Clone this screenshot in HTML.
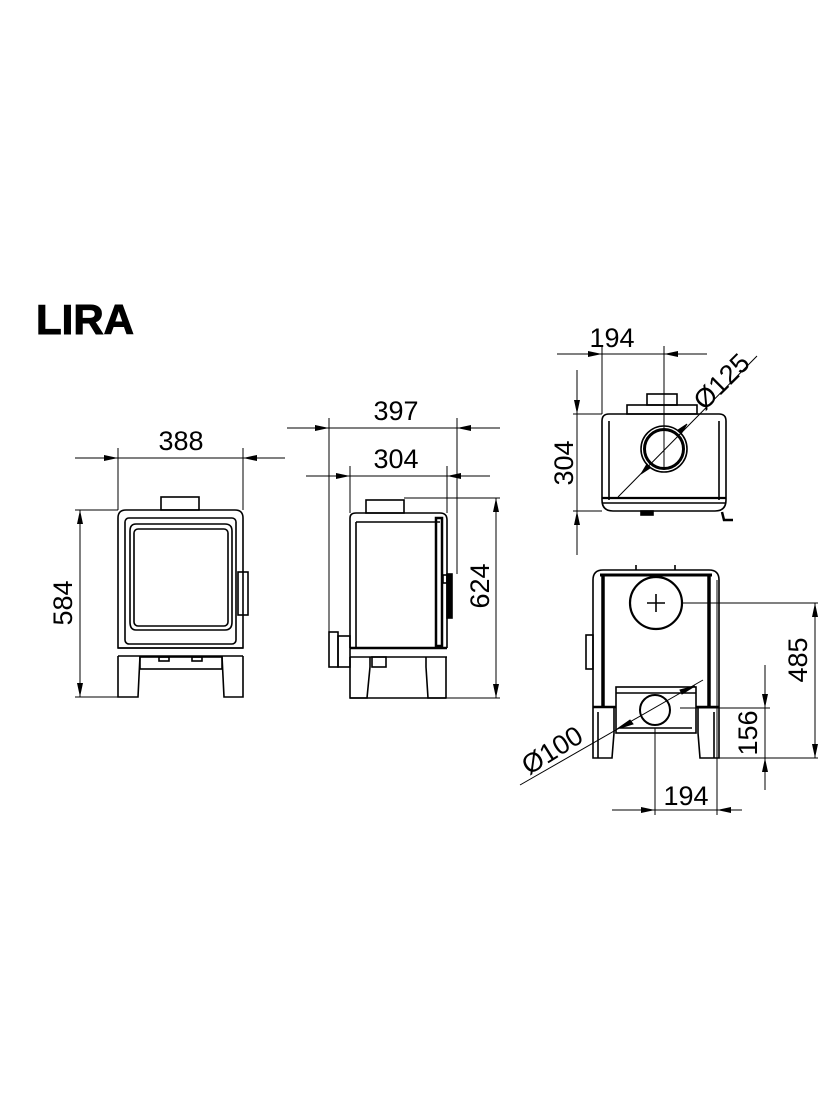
<!DOCTYPE html>
<html><head><meta charset="utf-8"><style>
html,body{margin:0;padding:0;background:#fff;}
svg{display:block;}
text{font-family:"Liberation Sans",sans-serif;fill:#000;}
</style></head><body>
<svg width="840" height="1120" viewBox="0 0 840 1120" xmlns="http://www.w3.org/2000/svg">
<defs>
<marker id="b" viewBox="0 0 14 6" refX="14" refY="3" markerWidth="14" markerHeight="6" orient="auto-start-reverse" markerUnits="userSpaceOnUse"><path d="M0,0 L14,3 L0,6 z" fill="#000"/></marker>
</defs>
<text x="36" y="334" font-size="42" font-weight="bold" stroke="#000" stroke-width="1">LIRA</text>

<g fill="none" stroke="#000" stroke-width="1">
<!-- FRONT VIEW -->
<line x1="118" y1="448" x2="118" y2="510"/>
<line x1="243" y1="448" x2="243" y2="510"/>
<line x1="75" y1="458" x2="118" y2="458" marker-end="url(#b)"/>
<line x1="285" y1="458" x2="243" y2="458" marker-end="url(#b)"/>
<line x1="118" y1="458" x2="243" y2="458"/>
<line x1="75" y1="510" x2="118" y2="510"/>
<line x1="75" y1="697" x2="118" y2="697"/>
<line x1="80" y1="510" x2="80" y2="697" marker-start="url(#b)" marker-end="url(#b)"/>
<g stroke-width="1.6">
<rect x="161" y="497" width="38" height="13"/>
<path d="M118,648 L118,518 Q118,510 126,510 L235,510 Q243,510 243,518 L243,648 Z"/>
<rect x="125" y="518" width="111" height="126" rx="4"/>
<path d="M136,524 L225,524 Q232,524 232,531 L232,622 Q232,630 225,630 L136,630 Q130,630 130,622 L130,531 Q130,524 136,524 Z"/>
<rect x="134" y="529" width="94" height="97" rx="4"/>
<rect x="238" y="572" width="10" height="43"/>
<line x1="118" y1="648" x2="243" y2="648"/>
<line x1="118" y1="656" x2="243" y2="656"/>
<path d="M118,656 L118,697 L138,697 L140,656"/>
<path d="M243,656 L243,697 L224,697 L222,656"/>
<rect x="140" y="657" width="82" height="12"/>
<rect x="159" y="657" width="10" height="4"/><rect x="192" y="657" width="10" height="4"/>
</g>

<!-- SIDE VIEW -->
<line x1="329" y1="418" x2="329" y2="632"/>
<line x1="457" y1="418" x2="457" y2="574"/>
<line x1="287" y1="428" x2="329" y2="428" marker-end="url(#b)"/>
<line x1="500" y1="428" x2="457" y2="428" marker-end="url(#b)"/>
<line x1="329" y1="428" x2="457" y2="428"/>
<line x1="350" y1="466" x2="350" y2="513"/>
<line x1="447" y1="466" x2="447" y2="513"/>
<line x1="306" y1="476" x2="350" y2="476" marker-end="url(#b)"/>
<line x1="490" y1="476" x2="447" y2="476" marker-end="url(#b)"/>
<line x1="350" y1="476" x2="447" y2="476"/>
<line x1="404" y1="498" x2="500" y2="498"/>
<line x1="446" y1="698" x2="500" y2="698"/>
<line x1="496" y1="498" x2="496" y2="698" marker-start="url(#b)" marker-end="url(#b)"/>
<g stroke-width="1.6">
<rect x="366" y="500" width="38" height="13"/>
<path d="M350,648 L350,518 Q350,513 356,513 L440,513 Q447,513 447,520 L447,648"/>
<line x1="356" y1="522" x2="440" y2="522"/>
<line x1="356" y1="522" x2="356" y2="648"/>
<rect x="436" y="518" width="6" height="128" stroke-width="2.5"/>
<rect x="447" y="574" width="5" height="44" fill="#000"/>
<rect x="443" y="575" width="4" height="8"/>
<rect x="329" y="632" width="9" height="35"/>
<rect x="338" y="636" width="12" height="31"/>
<line x1="350" y1="648" x2="447" y2="648" stroke-width="2.5"/>
<line x1="350" y1="657" x2="447" y2="657"/>
<path d="M350,657 L350,698 L367,698 L370,667 L370,657"/>
<path d="M446,657 L446,698 L428,698 L426,667 L426,657"/>
<rect x="372" y="657" width="14" height="10"/>
<line x1="350" y1="698" x2="446" y2="698"/>
</g>

<!-- TOP VIEW -->
<line x1="602" y1="346" x2="602" y2="414"/>
<line x1="664" y1="346" x2="664" y2="470"/>
<line x1="557" y1="354" x2="602" y2="354" marker-end="url(#b)"/>
<line x1="707" y1="354" x2="664" y2="354" marker-end="url(#b)"/>
<line x1="602" y1="354" x2="664" y2="354"/>
<line x1="573" y1="414" x2="602" y2="414"/>
<line x1="573" y1="511" x2="602" y2="511"/>
<line x1="577" y1="370" x2="577" y2="414" marker-end="url(#b)"/>
<line x1="577" y1="555" x2="577" y2="511" marker-end="url(#b)"/>
<line x1="577" y1="414" x2="577" y2="511"/>
<line x1="618" y1="497" x2="757" y2="356"/>
<g stroke-width="1.6">
<rect x="627" y="405" width="70" height="9"/>
<rect x="647" y="394" width="30" height="11"/>
<path d="M602,500 L602,421 Q602,414 609,414 L719,414 Q726,414 726,421 L726,500 Q726,511 715,511 L613,511 Q602,511 602,500 Z"/>
<line x1="609" y1="421" x2="609" y2="500"/>
<line x1="719" y1="421" x2="719" y2="500"/>
<line x1="602" y1="498" x2="726" y2="498" stroke-width="2.2"/>
<line x1="602" y1="503" x2="726" y2="503"/>
<circle cx="664" cy="449" r="23"/>
<circle cx="664" cy="449" r="19.5" stroke-width="3"/>
<rect x="641" y="511" width="12" height="4" fill="#000"/>
<path d="M722,512 L724,520 L733,520" stroke-width="2.5"/>
</g>
<path d="M641,474 L650,468 L647,464 Z" fill="#000"/>
<path d="M687,424 L678,430 L681,434 Z" fill="#000"/>

<!-- REAR VIEW -->
<line x1="683" y1="603" x2="818" y2="603"/>
<line x1="815" y1="603" x2="815" y2="758" marker-start="url(#b)" marker-end="url(#b)"/>
<line x1="680" y1="708" x2="770" y2="708"/>
<line x1="765" y1="665" x2="765" y2="708" marker-end="url(#b)"/>
<line x1="765" y1="790" x2="765" y2="758" marker-end="url(#b)"/>
<line x1="765" y1="708" x2="765" y2="758"/>
<line x1="700" y1="758" x2="818" y2="758"/>
<line x1="655" y1="728" x2="655" y2="815"/>
<line x1="717" y1="580" x2="717" y2="815"/>
<line x1="612" y1="810" x2="655" y2="810" marker-end="url(#b)"/>
<line x1="742" y1="810" x2="717" y2="810" marker-end="url(#b)"/>
<line x1="655" y1="810" x2="717" y2="810"/>
<line x1="520" y1="785" x2="703" y2="680"/>
<path d="M617,729 L630,720 L633,724 Z" fill="#000"/>
<path d="M695,686 L682,694 L680,690 Z" fill="#000"/>
<g stroke-width="1.6">
<path d="M593,707 L593,580 Q593,570 603,570 L709,570 Q719,570 719,580 L719,707"/>
<line x1="600" y1="575" x2="712" y2="575" stroke-width="3"/>
<line x1="603" y1="575" x2="603" y2="707" stroke-width="3.5"/>
<line x1="709" y1="575" x2="709" y2="707" stroke-width="3.5"/>
<line x1="636" y1="565" x2="636" y2="570"/><line x1="675" y1="565" x2="675" y2="570"/>
<circle cx="656" cy="603" r="26" stroke-width="2.2"/>
<line x1="647" y1="603" x2="665" y2="603"/><line x1="656" y1="594" x2="656" y2="612"/>
<rect x="586" y="635" width="7" height="34"/>
<rect x="616" y="687" width="80" height="46"/>
<line x1="616" y1="693" x2="696" y2="693"/>
<line x1="620" y1="728" x2="692" y2="728"/>
<circle cx="655" cy="710" r="15" stroke-width="2"/>
<line x1="593" y1="707" x2="616" y2="707" stroke-width="2.5"/>
<line x1="696" y1="707" x2="719" y2="707" stroke-width="2.5"/>
<path d="M593,707 L593,758 L612,758 L614,733 L614,707"/>
<path d="M719,707 L719,758 L700,758 L698,733 L698,707"/>
<line x1="598" y1="712" x2="598" y2="758"/>
<line x1="714" y1="712" x2="714" y2="758"/>
</g>
</g>

<g font-size="27">
<text x="181" y="450" text-anchor="middle">388</text>
<text x="396" y="420" text-anchor="middle">397</text>
<text x="396" y="468" text-anchor="middle">304</text>
<text x="612" y="347" text-anchor="middle">194</text>
<text x="686" y="805" text-anchor="middle">194</text>
<text transform="translate(72,603) rotate(-90)" text-anchor="middle">584</text>
<text transform="translate(489,586) rotate(-90)" text-anchor="middle">624</text>
<text transform="translate(573,463) rotate(-90)" text-anchor="middle">304</text>
<text transform="translate(807,660) rotate(-90)" text-anchor="middle">485</text>
<text transform="translate(757,733) rotate(-90)" text-anchor="middle">156</text>
<text transform="translate(728,388) rotate(-45)" text-anchor="middle">Ø125</text>
<text transform="translate(557,758) rotate(-32)" text-anchor="middle">Ø100</text>
</g>
</svg>
</body></html>
